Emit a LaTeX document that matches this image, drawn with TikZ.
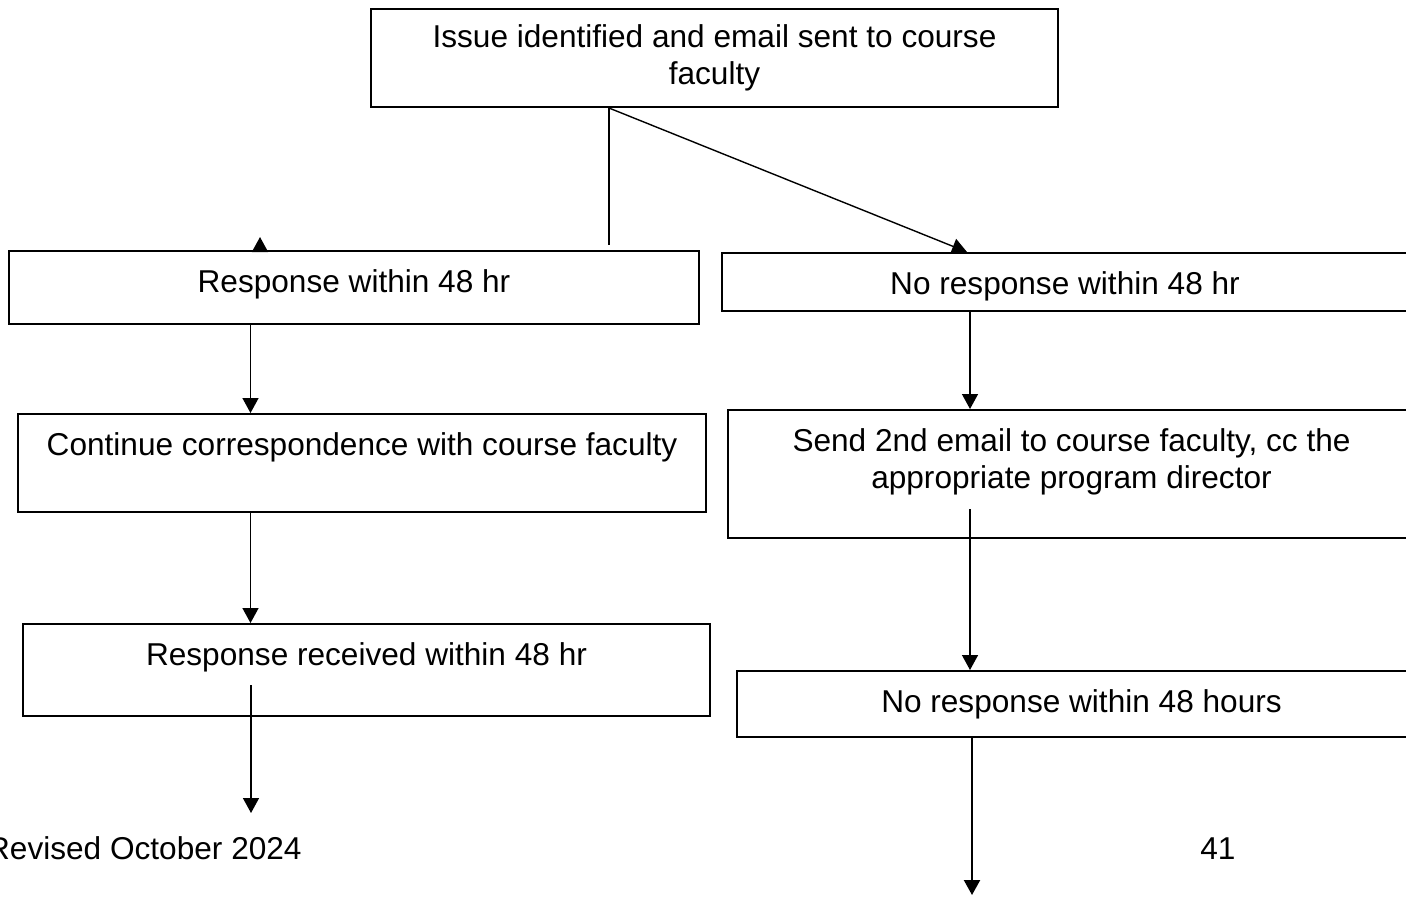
\documentclass[tikz,border=0pt]{standalone}
\usepackage{fontspec}
\setmainfont{Liberation Sans}
\usetikzlibrary{arrows.meta,calc}
\tikzset{
  stepbox/.style={
    draw, line width=1pt, anchor=north west, inner sep=0pt, align=center
  },
  link/.style={line width=0.7pt},
  flow/.style={link, -{Triangle[length=7.5pt,width=8pt]}},
  boldflow/.style={flow, line width=1.1pt},
  footer/.style={inner sep=0pt}
}

\begin{document}
\begin{tikzpicture}[x=0.5pt,y=-0.5pt,font=\fontsize{15.8}{18.2}\selectfont]
  \useasboundingbox (0,0) rectangle (1406,896);
  % boxes
  \node[stepbox,minimum width=343.5pt,minimum height=49pt] (issue) at (370,8)
    {Issue identified and email sent to course\\faculty};
  \node[stepbox,minimum width=345pt,text height=20.5pt,text depth=16pt] (resp) at (8,250)
    {Response within 48 hr};
  \node[stepbox,minimum width=343pt,text height=20.5pt,text depth=8.5pt] (noresp) at (721,252)
    {No response within 48 hr};
  \node[stepbox,minimum width=344pt,text height=20.5pt,text depth=28.5pt] (cont) at (17,413)
    {Continue correspondence with course faculty};
  \node[stepbox,minimum width=343.5pt,text height=39pt,text depth=25pt] (second) at (727,409)
    {Send 2nd email to course faculty, cc the\\appropriate program director};
  \node[stepbox,minimum width=343.5pt,text height=20.5pt,text depth=25.5pt] (recv) at (22,623)
    {Response received within 48 hr};
  \node[stepbox,minimum width=344.5pt,text height=20.5pt,text depth=12.5pt] (silent) at (736,670)
    {No response within 48 hours};
  % footer
  \node[footer,anchor=base east] (revised) at (302,859) {Revised October 2024};
  \node[footer,anchor=base west] (pagenum) at (1200,859) {41};
  % helper points
  \coordinate (split) at (609,245);
  \coordinate (stubL) at (260,0);
  \coordinate (tipR) at (967,0);
  \coordinate (colL) at (250.5,0);
  \coordinate (colR) at (970,0);
  \coordinate (outL) at (251,813);
  \coordinate (outR) at (972,895);
  % connectors
  \draw[link] (issue.south -| split) -- (split);
  \draw[flow] (issue.south -| split) -- (noresp.north -| tipR);
  \draw[flow] (resp.north -| stubL) -- ++(0,-13);
  \draw[flow] (resp.south -| colL) -- (cont.north -| colL);
  \draw[flow] (cont.south -| colL) -- (recv.north -| colL);
  \draw[flow] ($(recv.south -| outL)+(0,-32)$) -- (outL);
  \draw[flow] (noresp.south -| colR) -- (second.north -| colR);
  \draw[flow] ($(second.south -| colR)+(0,-30)$) -- (silent.north -| colR);
  \draw[boldflow] (silent.south -| outR) -- (outR);
\end{tikzpicture}
\end{document}
